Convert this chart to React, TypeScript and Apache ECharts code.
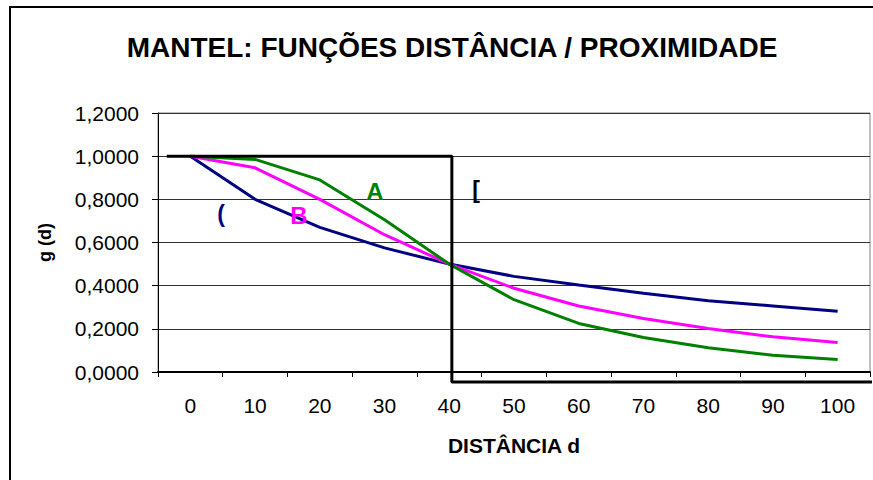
import React, { useEffect, useRef } from "react";
import * as echarts from "echarts";

const categories = ["0", "10", "20", "30", "40", "50", "60", "70", "80", "90", "100"];
const seriesA = [1, 0.985, 0.89, 0.705, 0.5, 0.335, 0.225, 0.16, 0.112, 0.078, 0.058];
const seriesB = [1, 0.946, 0.8, 0.636, 0.5, 0.388, 0.306, 0.248, 0.202, 0.163, 0.137];
const seriesC = [1, 0.8, 0.67, 0.575, 0.5, 0.443, 0.403, 0.365, 0.33, 0.306, 0.282];
// step function D (distance on a continuous scale, value)
const seriesDX = [-3.65, 40.4, 40.4, 106.5];
const seriesDY = [1, 1, -0.0465, -0.0465];
const yTicks = { min: 0, max: 1.2, interval: 0.2 };

const FONT = "'Liberation Sans', Arial, sans-serif";

export default function App() {
  const ref = useRef<HTMLDivElement>(null);
  useEffect(() => {
    if (!ref.current) return;
    const chart = echarts.init(ref.current, undefined, { renderer: "svg" });
    const lineSeries = (name: string, data: number[], color: string) => ({
      name,
      type: "line",
      xAxisIndex: 0,
      yAxisIndex: 0,
      data,
      symbol: "none",
      lineStyle: { color, width: 3 },
      z: 3,
    });
    chart.setOption({
      animation: false,
      backgroundColor: "#ffffff",
      textStyle: { fontFamily: FONT },
      title: {
        text: "MANTEL: FUNÇÕES DISTÂNCIA / PROXIMIDADE",
        left: 447,
        top: 28,
        textAlign: "center",
        textStyle: { fontFamily: FONT, fontSize: 28, fontWeight: "bold", color: "#000" },
      },
      grid: {
        left: 158,
        right: 3,
        top: 113,
        bottom: 108,
        show: true,
        borderColor: "#808080",
        borderWidth: 1,
      },
      xAxis: [
        {
          type: "category",
          data: categories,
          boundaryGap: true,
          axisLine: { onZero: false, lineStyle: { color: "#000", width: 2 } },
          axisTick: { show: true, length: 5, inside: false, lineStyle: { color: "#000" } },
          axisLabel: { fontFamily: FONT, fontSize: 21, color: "#000", margin: 23 },
          splitLine: { show: false },
          name: "DISTÂNCIA d",
          nameLocation: "middle",
          nameGap: 63,
          nameTextStyle: { fontFamily: FONT, fontSize: 21, fontWeight: "bold", color: "#000" },
        },
        {
          type: "value",
          min: -5,
          max: 105,
          show: false,
          position: "bottom",
        },
      ],
      yAxis: {
        type: "value",
        min: yTicks.min,
        max: yTicks.max,
        interval: yTicks.interval,
        axisLine: { show: true, onZero: false, lineStyle: { color: "#000", width: 1 } },
        axisTick: { show: true, length: 6, lineStyle: { color: "#000" } },
        axisLabel: {
          fontFamily: FONT,
          fontSize: 21,
          color: "#000",
          margin: 19,
          formatter: (v: number) => v.toFixed(4).replace(".", ","),
        },
        splitLine: { show: true, lineStyle: { color: "#333", width: 1 } },
        name: "g (d)",
        nameLocation: "middle",
        nameGap: 104,
        nameRotate: 90,
        nameTextStyle: { fontFamily: FONT, fontSize: 18, fontWeight: "bold", color: "#000" },
      },
      series: [
        lineSeries("C", seriesC, "#000080"),
        lineSeries("B", seriesB, "#ff00ff"),
        lineSeries("A", seriesA, "#008000"),
        {
          name: "D",
          type: "line",
          xAxisIndex: 1,
          yAxisIndex: 0,
          data: seriesDX.map((x, i) => [x, seriesDY[i]]),
          symbol: "none",
          clip: false,
          lineStyle: { color: "#000", width: 3 },
          z: 4,
        },
      ],
      graphic: [
        {
          type: "rect",
          shape: { x: 10, y: 7, width: 900, height: 520 },
          style: { fill: "none", stroke: "#000", lineWidth: 2 },
          z: 10,
        },
        {
          type: "text",
          x: 375,
          y: 191,
          style: { text: "A", fill: "#008000", font: `bold 24px ${FONT}`, align: "center", verticalAlign: "middle" },
          z: 10,
        },
        {
          type: "text",
          x: 299,
          y: 215,
          style: { text: "B", fill: "#ff00ff", font: `bold 24px ${FONT}`, align: "center", verticalAlign: "middle" },
          z: 10,
        },
        {
          type: "text",
          x: 221,
          y: 214,
          style: { text: "(", fill: "#000080", font: `bold 23px ${FONT}`, align: "center", verticalAlign: "middle" },
          z: 10,
        },
        {
          type: "text",
          x: 476,
          y: 190,
          style: { text: "[", fill: "#000", font: `bold 23px ${FONT}`, align: "center", verticalAlign: "middle" },
          z: 10,
        },
      ],
    });
    return () => chart.dispose();
  }, []);
  return (
    <div
      ref={ref}
      style={{ position: "absolute", left: 0, top: 0, width: 873, height: 480 }}
    />
  );
}
